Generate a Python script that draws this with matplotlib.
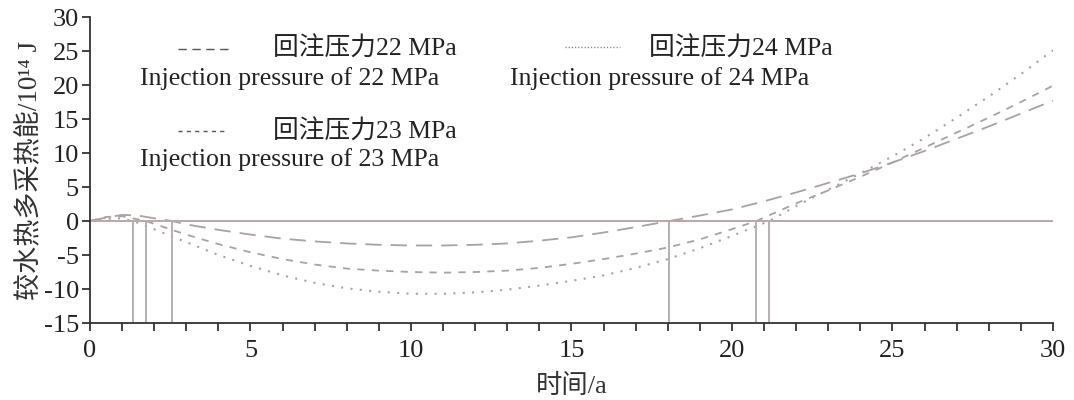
import matplotlib
matplotlib.use("Agg")
import matplotlib.pyplot as plt

plt.rcParams['font.family'] = ['Liberation Serif', 'Noto Sans CJK SC']
plt.rcParams['axes.unicode_minus'] = False

# 22 MPa
x22 = [0, 0.5, 1, 1.5, 2, 2.55, 3, 4, 5, 6, 7, 8, 9, 10, 11, 12, 13, 14, 15, 16, 17, 18.05,
       19, 20, 21, 22, 23, 24, 25, 26, 27, 28, 29, 30]
y22 = [0, 0.5, 0.9, 0.8, 0.4, 0, -0.5, -1.3, -2.0, -2.6, -3.0, -3.3, -3.5, -3.6, -3.6, -3.5, -3.3,
       -2.9, -2.4, -1.7, -0.9, 0, 0.8, 1.7, 2.9, 4.2, 5.6, 7.0, 8.6, 10.3, 12.1, 13.9, 15.8, 17.7]
# 23 MPa
x23 = [0, 0.5, 1, 1.74, 2.55, 3, 4, 5, 6, 7, 8, 9, 10, 11, 12, 13, 14, 15, 16, 17, 18, 19, 20,
       20.76, 22, 23, 24, 25, 26, 27, 28, 29, 30]
y23 = [0, 0.6, 0.7, 0, -1.3, -2.0, -3.4, -4.6, -5.6, -6.4, -7.0, -7.3, -7.5, -7.6, -7.5, -7.3,
       -6.9, -6.3, -5.6, -4.8, -3.9, -2.7, -1.2, 0, 2.6, 4.5, 6.5, 8.6, 10.8, 13.0, 15.2, 17.5, 19.9]
# 24 MPa
x24 = [0, 0.5, 0.9, 1.34, 2, 2.55, 3, 4, 5, 6, 7, 8, 9, 10, 11, 12, 13, 14, 15, 16, 17, 18, 19,
       20, 21.16, 22, 23, 24, 25, 26, 27, 28, 29, 30]
y24 = [0, 0.3, 0.4, 0, -1.2, -2.3, -3.1, -5.0, -6.6, -8.0, -9.1, -9.9, -10.4, -10.7, -10.7, -10.5,
       -10.1, -9.5, -8.8, -8.0, -6.9, -5.6, -4.0, -2.2, 0, 2.2, 4.6, 7.0, 9.5, 12.2, 15.2, 18.3,
       21.6, 25.1]

# zero-crossing years
crossings = [1.34, 1.74, 2.55, 18.05, 20.76, 21.16]

fig = plt.figure(figsize=(10.74, 4.0), dpi=100)
ax = fig.add_axes([0.0838, 0.1925, 0.8966, 0.765])

curve_color = '#a8a2a2'
ref_color = '#bba8a8'
vline_color = '#b4b0b0'

ax.plot(x22, y22, color=curve_color, linewidth=1.3, dashes=(9, 5))
ax.plot(x23, y23, color=curve_color, linewidth=1.3, dashes=(4, 4))
ax.plot(x24, y24, color=curve_color, linewidth=1.5, dashes=(1, 3.5))

ax.plot([0, 30], [0, 0], color=ref_color, linewidth=1.4)
for xc in crossings:
    ax.plot([xc, xc], [-15, 0], color=vline_color, linewidth=1.4)

ax.set_xlim(0, 30)
ax.set_ylim(-15, 30)
ax.set_xticks(range(0, 31, 5))
ax.set_xticks(range(0, 31, 1), minor=True)
ax.set_yticks(range(-15, 31, 5))
ax.spines['top'].set_visible(False)
ax.spines['right'].set_visible(False)
for s in ['left', 'bottom']:
    ax.spines[s].set_linewidth(1.3)
    ax.spines[s].set_color('#333333')
ax.tick_params(axis='both', which='both', direction='out', length=6, width=1.3,
               color='#333333', labelsize=19, labelcolor='#222222')
ax.tick_params(axis='x', pad=6)
ax.tick_params(axis='y', pad=2)

ax.set_xlabel('时间/a', fontsize=19, color='#333333', labelpad=9)
ax.set_ylabel('较水热多采热能/10¹⁴ J', fontsize=19.5, color='#333333', labelpad=0)

# legend drawn by hand
ax.plot([2.75, 4.3], [25.3, 25.3], color='#555555', linewidth=1.0, dashes=(6, 4), clip_on=False)
ax.plot([2.75, 4.3], [13.2, 13.2], color='#555555', linewidth=1.0, dashes=(3, 3), clip_on=False)
ax.plot([14.8, 16.5], [25.6, 25.6], color='#777777', linewidth=1.0, dashes=(0.8, 1.5), clip_on=False)

tk = dict(fontsize=18.5, color='#222222', va='center')
ax.text(5.7, 25.3, '回注压力22 MPa', **tk)
ax.text(1.55, 21.0, 'Injection pressure of 22 MPa', **tk)
ax.text(17.4, 25.3, '回注压力24 MPa', **tk)
ax.text(13.1, 21.0, 'Injection pressure of 24 MPa', **tk)
ax.text(5.7, 13.2, '回注压力23 MPa', **tk)
ax.text(1.55, 9.0, 'Injection pressure of 23 MPa', **tk)

fig.savefig('out.png', dpi=100)
